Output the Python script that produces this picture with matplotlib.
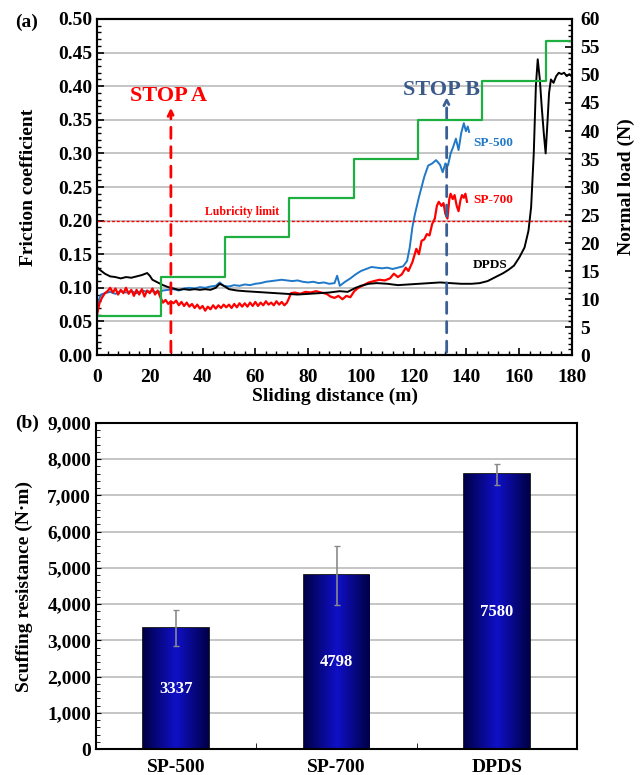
import numpy as np
import matplotlib.pyplot as plt
from matplotlib.colors import LinearSegmentedColormap
from matplotlib.ticker import MultipleLocator, FuncFormatter

plt.rcParams['font.family'] = 'Liberation Serif'
plt.rcParams['font.weight'] = 'bold'
plt.rcParams['axes.labelweight'] = 'bold'

# ---- (a) friction traces ----
dpds_x = [0, 1, 3, 5, 7, 9, 11, 13, 15, 17, 19, 20, 21, 23, 25, 27, 29, 31, 33, 35, 37, 39, 41, 43, 45,
          46.5, 48, 50, 53, 56, 60, 64, 68, 72, 76, 80, 84, 88, 92, 95, 98, 100, 103, 106, 110, 114,
          118, 122, 126, 130, 134, 138, 142, 145, 148, 151, 154, 156, 158, 160, 162, 163.5, 164.5,
          165.5, 166.3, 167, 167.8, 168.5, 169.3, 170, 170.6, 171.3, 172, 173, 174, 175, 176, 177,
          178, 179, 180]
dpds_f = [0.131, 0.127, 0.121, 0.117, 0.116, 0.114, 0.116, 0.115, 0.117, 0.119, 0.122, 0.118, 0.112,
          0.108, 0.104, 0.101, 0.099, 0.097, 0.098, 0.097, 0.098, 0.097, 0.098, 0.097, 0.100, 0.106,
          0.103, 0.098, 0.096, 0.095, 0.094, 0.093, 0.092, 0.091, 0.090, 0.091, 0.092, 0.093, 0.095,
          0.094, 0.100, 0.103, 0.106, 0.107, 0.106, 0.104, 0.105, 0.106, 0.107, 0.108, 0.107, 0.106,
          0.106, 0.107, 0.110, 0.116, 0.122, 0.127, 0.133, 0.145, 0.160, 0.185, 0.22, 0.30, 0.40,
          0.44, 0.41, 0.37, 0.33, 0.30, 0.34, 0.39, 0.41, 0.405, 0.415, 0.42, 0.418, 0.42, 0.415,
          0.418, 0.414]

sp500_x = [0, 0.5, 1.5, 3, 5, 7, 9, 11, 13, 15, 17, 19, 21, 23, 25, 27, 29, 31, 33, 35, 37, 39, 41,
           43, 45, 46.5, 48, 50, 52, 54, 56, 58, 60, 62, 64, 66, 68, 70, 72, 74, 76, 78, 80, 82, 84,
           86, 88, 90, 91, 92, 94, 96, 98, 100, 102, 104, 106, 108, 110, 112, 114, 116, 117.5, 118.5,
           119.5, 120.5, 122, 124, 125.5, 127, 128.5, 130, 131, 132, 133, 134, 135, 136, 137, 138,
           139, 139.8, 140.5, 141]
sp500_f = [0.06, 0.08, 0.09, 0.092, 0.094, 0.091, 0.095, 0.093, 0.095, 0.092, 0.096, 0.094, 0.095,
           0.093, 0.096, 0.097, 0.098, 0.096, 0.099, 0.100, 0.099, 0.101, 0.100, 0.102, 0.103, 0.108,
           0.103, 0.102, 0.104, 0.103, 0.105, 0.104, 0.106, 0.107, 0.109, 0.110, 0.111, 0.112, 0.111,
           0.110, 0.111, 0.109, 0.108, 0.109, 0.107, 0.108, 0.106, 0.107, 0.118, 0.103, 0.109, 0.114,
           0.120, 0.125, 0.128, 0.131, 0.130, 0.129, 0.130, 0.128, 0.130, 0.132, 0.140, 0.160, 0.190,
           0.210, 0.235, 0.265, 0.282, 0.285, 0.290, 0.283, 0.272, 0.285, 0.282, 0.300, 0.310, 0.322,
           0.305, 0.330, 0.345, 0.333, 0.340, 0.332]

sp700_x = [0, 1, 2, 3, 4, 5, 6, 7, 8, 9, 10, 11, 12, 13, 14, 15, 16, 17, 18, 19, 20, 21, 22, 23, 24,
           25, 26, 27, 28, 29, 30, 31, 32, 33, 34, 35, 36, 37, 38, 39, 40, 41, 42, 43, 44, 45, 46, 47,
           48, 49, 50, 51, 52, 53, 54, 55, 56, 57, 58, 59, 60, 61, 62, 63, 64, 65, 66, 67, 68, 69, 70,
           71, 72, 72.8, 73.5, 75, 77, 79, 81, 83, 85, 87, 88.5, 90, 91.5, 93, 94.5, 96, 97.5, 99, 101,
           103, 105, 107, 109, 111, 112.5, 114, 115.5, 117, 118, 119.5, 121, 122, 123, 124, 125, 126,
           127, 128, 128.8, 129.5, 130.5, 131.3, 132, 132.8, 133.5, 134, 134.8, 135.5, 136.3, 137,
           137.7, 138.3, 139, 139.6, 140.2]
sp700_f = [0.06, 0.078, 0.086, 0.092, 0.095, 0.100, 0.093, 0.099, 0.090, 0.097, 0.092, 0.100, 0.091,
           0.097, 0.088, 0.097, 0.090, 0.098, 0.087, 0.096, 0.092, 0.099, 0.090, 0.096, 0.086, 0.078,
           0.082, 0.076, 0.080, 0.077, 0.081, 0.074, 0.079, 0.073, 0.078, 0.072, 0.076, 0.070, 0.075,
           0.069, 0.073, 0.066, 0.072, 0.068, 0.074, 0.069, 0.074, 0.070, 0.075, 0.071, 0.075, 0.070,
           0.076, 0.071, 0.077, 0.072, 0.077, 0.072, 0.078, 0.073, 0.079, 0.073, 0.078, 0.074, 0.080,
           0.075, 0.078, 0.074, 0.080, 0.075, 0.079, 0.074, 0.078, 0.085, 0.092, 0.093, 0.091, 0.094,
           0.093, 0.095, 0.093, 0.091, 0.087, 0.085, 0.088, 0.083, 0.088, 0.086, 0.095, 0.100, 0.104,
           0.108, 0.110, 0.112, 0.111, 0.114, 0.121, 0.116, 0.120, 0.130, 0.125, 0.138, 0.158, 0.150,
           0.170, 0.172, 0.180, 0.178, 0.195, 0.203, 0.222, 0.228, 0.222, 0.226, 0.210, 0.203, 0.232,
           0.240, 0.232, 0.238, 0.222, 0.214, 0.230, 0.238, 0.234, 0.240, 0.228]

# stepwise normal load (right axis)
load_x = [0, 24.3, 48.6, 72.9, 97.2, 121.5, 145.8, 170.1, 180]
load_n = [7, 14, 21, 28, 35, 42, 49, 56, 56]

stop_a = 28
stop_b = 132.5
lub_limit = 0.20

# ---- (b) scuffing resistance ----
oils = ['SP-500', 'SP-700', 'DPDS']
scuff = [3337, 4798, 7580]
scuff_err = [490, 810, 280]

B = dict(fontweight='bold')

fig = plt.figure(figsize=(6.41, 7.75), dpi=100)

ax = fig.add_axes([0.1513, 0.5419, 0.7411, 0.4336])
ax2 = ax.twinx()

ax.yaxis.grid(True, color='#c0c0c0', lw=1.3)
ax.set_axisbelow(True)
ax2.step(load_x, load_n, where='post', color='#1db040', lw=1.6)
ax.plot(sp500_x, sp500_f, color='#1f78c8', lw=1.4)
ax.plot(sp700_x, sp700_f, color='#ff0000', lw=1.6)
ax.plot(dpds_x, dpds_f, color='black', lw=1.4)

ax.axhline(lub_limit, color='red', lw=1, ls=(0, (2, 1.5)))
ax.text(55, lub_limit + 0.004, 'Lubricity limit', color='red', fontsize=8.5, ha='center',
        va='bottom', **B)

ax.annotate('', xy=(stop_a, 0.372), xytext=(stop_a, 0),
            arrowprops=dict(arrowstyle='->', color='red', lw=2, ls=(0, (4, 3))))
ax.text(stop_a - 1, 0.385, 'STOP A', color='red', fontsize=16, ha='center', va='center', **B)
ax.annotate('', xy=(stop_b, 0.388), xytext=(stop_b, 0),
            arrowprops=dict(arrowstyle='->', color='#3a5f95', lw=2, ls=(0, (4, 3))))
ax.text(stop_b - 2, 0.394, 'STOP B', color='#3a5a8a', fontsize=16, ha='center', va='center', **B)

ax.text(150, 0.315, 'SP-500', color='#1f78c8', fontsize=9.5, ha='center', va='center', **B)
ax.text(150, 0.231, 'SP-700', color='red', fontsize=9.5, ha='center', va='center', **B)
ax.text(149, 0.134, 'DPDS', color='black', fontsize=9.5, ha='center', va='center', **B)

ax.set_xlim(0, 180)
ax.set_ylim(0, 0.5)
ax2.set_ylim(0, 60)
ax.xaxis.set_major_locator(MultipleLocator(20))
ax.xaxis.set_minor_locator(MultipleLocator(4))
ax.yaxis.set_major_locator(MultipleLocator(0.05))
ax.yaxis.set_minor_locator(MultipleLocator(0.01))
ax.yaxis.set_major_formatter(FuncFormatter(lambda v, p: '%.2f' % v))
ax2.yaxis.set_major_locator(MultipleLocator(5))
ax2.yaxis.set_minor_locator(MultipleLocator(1))
ax.tick_params(which='both', direction='in', labelsize=14, top=False)
ax.tick_params(which='major', length=5, width=1.2)
ax.tick_params(which='minor', length=3, width=1)
ax.tick_params(axis='x', pad=10)
ax2.tick_params(which='both', direction='in', labelsize=14)
ax2.tick_params(which='major', length=5, width=1.2, pad=6)
ax2.tick_params(which='minor', length=3, width=1)
for a in (ax, ax2):
    for s in a.spines.values():
        s.set_linewidth(1.5)
ax.set_xlabel('Sliding distance (m)', fontsize=14, labelpad=1, **B)
ax.set_ylabel('Friction coefficient', fontsize=14, labelpad=15, **B)
ax2.set_ylabel('Normal load (N)', fontsize=14, labelpad=13, **B)
fig.text(0.023, 0.9716, '(a)', fontsize=14, ha='left', va='center', **B)

# ---- bar chart ----
bx = fig.add_axes([0.1498, 0.0335, 0.7504, 0.4207])
bx.yaxis.grid(True, color='#c0c0c0', lw=1.3)
bx.set_axisbelow(True)
pos = np.arange(len(oils))
w = 0.41
bars = bx.bar(pos, scuff, width=w, color='#000080', edgecolor='black', lw=1.2, zorder=2)
cmap = LinearSegmentedColormap.from_list('navy', ['#000048', '#1010c8', '#000048'])
grad = np.linspace(0, 1, 100).reshape(1, -1)
for b, v in zip(bars, scuff):
    im = bx.imshow(grad, cmap=cmap, aspect='auto', zorder=2.5,
                   extent=(b.get_x(), b.get_x() + b.get_width(), 0, v))
    im.set_clip_path(b)
bx.errorbar(pos, scuff, yerr=scuff_err, fmt='none', ecolor='#8a8a8a', elinewidth=1.2,
            capsize=2, capthick=1, zorder=3)
for p, v in zip(pos, scuff):
    bx.text(p, v / 2, str(v), color='white', fontsize=12, ha='center', va='center', zorder=4, **B)

bx.set_xlim(-0.5, 2.5)
bx.set_ylim(0, 9000)
bx.set_xticks(pos)
bx.set_xticklabels(oils, fontweight='bold')
bx.set_xticks([0.5, 1.5], minor=True)
bx.yaxis.set_major_locator(MultipleLocator(1000))
bx.yaxis.set_minor_locator(MultipleLocator(200))
bx.yaxis.set_major_formatter(FuncFormatter(lambda v, p: '{:,.0f}'.format(v)))
bx.tick_params(axis='x', which='major', length=0, labelsize=14, pad=7)
bx.tick_params(axis='x', which='minor', direction='in', length=4)
bx.tick_params(axis='y', which='both', direction='in', labelsize=14)
bx.tick_params(axis='y', which='minor', length=3)
for s in bx.spines.values():
    s.set_linewidth(1.5)
bx.set_ylabel('Scuffing resistance (N·m)', fontsize=14, labelpad=10, **B)
fig.text(0.023, 0.454, '(b)', fontsize=14, ha='left', va='center', **B)

fig.savefig('out.png', dpi=100)
